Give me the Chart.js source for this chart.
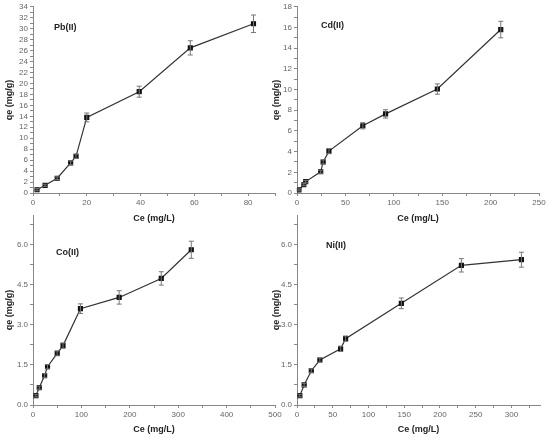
<!DOCTYPE html>
<html>
<head>
<meta charset="utf-8">
<script src="https://cdn.jsdelivr.net/npm/chart.js@4.4.0/dist/chart.umd.min.js"></script>
<style>
  html, body { margin: 0; padding: 0; background: #fff; }
  #wrap { position: relative; width: 550px; height: 439px; overflow: hidden; }
  .pane { position: absolute; }
  .tag { position: absolute; font: bold 9px "Liberation Sans", Arial, sans-serif; color: #222; }
</style>
</head>
<body>
<div id="wrap">
  <div class="pane" style="left:4px;top:0;width:281px;height:224px"><canvas id="c-pb"></canvas></div>
  <div class="pane" style="left:271px;top:0;width:279px;height:224px"><canvas id="c-cd"></canvas></div>
  <div class="pane" style="left:4px;top:208px;width:281px;height:231px"><canvas id="c-co"></canvas></div>
  <div class="pane" style="left:271px;top:208px;width:279px;height:231px"><canvas id="c-ni"></canvas></div>
  <div class="tag" style="left:54px;top:22px">Pb(II)</div>
  <div class="tag" style="left:321px;top:20px">Cd(II)</div>
  <div class="tag" style="left:56px;top:247px">Co(II)</div>
  <div class="tag" style="left:326px;top:240px">Ni(II)</div>
</div>
<script>
// Pb(II)
const pbCe = [1.5, 4.5, 9, 14, 16, 20, 39.5, 58.5, 82];
const pbQe = [0.6, 1.4, 2.7, 5.5, 6.7, 13.8, 18.5, 26.5, 30.9];
const pbErr = [0.2, 0.2, 0.25, 0.35, 0.4, 0.8, 1.0, 1.3, 1.6];
const pbXTicks = [0, 20, 40, 60, 80];
const pbYTicks = [0, 2, 4, 6, 8, 10, 12, 14, 16, 18, 20, 22, 24, 26, 28, 30, 32, 34];

// Cd(II)
const cdCe = [2, 7, 9, 24.5, 27, 33, 68, 91.5, 145, 210.5];
const cdQe = [0.3, 0.8, 1.1, 2.05, 3.0, 4.05, 6.5, 7.65, 10.05, 15.8];
const cdErr = [0.1, 0.1, 0.12, 0.15, 0.2, 0.25, 0.3, 0.4, 0.5, 0.8];
const cdXTicks = [0, 50, 100, 150, 200, 250];
const cdYTicks = [0, 2, 4, 6, 8, 10, 12, 14, 16, 18];

// Co(II)
const coCe = [6, 13, 24, 30, 50, 62, 98, 178, 265, 327];
const coQe = [0.35, 0.65, 1.1, 1.43, 1.93, 2.22, 3.6, 4.02, 4.73, 5.8];
const coErr = [0.05, 0.06, 0.07, 0.08, 0.09, 0.1, 0.18, 0.25, 0.25, 0.32];
const coXTicks = [0, 100, 200, 300, 400, 500];
const coYTicks = [0, 1.5, 3, 4.5, 6];

// Ni(II)
const niCe = [4, 10, 20, 32, 61, 68, 146, 230, 314];
const niQe = [0.35, 0.75, 1.28, 1.68, 2.1, 2.48, 3.8, 5.22, 5.43];
const niErr = [0.05, 0.06, 0.07, 0.08, 0.1, 0.1, 0.2, 0.25, 0.28];
const niXTicks = [0, 50, 100, 150, 200, 250, 300];
const niYTicks = [0, 1.5, 3, 4.5, 6];

const tickFont = { family: '"Liberation Sans", Arial, sans-serif', size: 8 };
const titleFont = { family: '"Liberation Sans", Arial, sans-serif', size: 9, weight: 'bold' };

// vertical error bars, drawn through the chart's own scales
const errorBars = {
  id: 'errorBars',
  afterDatasetsDraw(chart) {
    const errs = chart.options.plugins.errorBars.err;
    const ds = chart.data.datasets[0].data;
    const xs = chart.scales.x, ys = chart.scales.y;
    const ctx = chart.ctx;
    ctx.save();
    ctx.strokeStyle = '#777';
    ctx.lineWidth = 1;
    ds.forEach((p, i) => {
      const x = xs.getPixelForValue(p.x);
      const y1 = ys.getPixelForValue(p.y - errs[i]);
      const y2 = ys.getPixelForValue(p.y + errs[i]);
      ctx.beginPath();
      ctx.moveTo(x, y1); ctx.lineTo(x, y2);
      ctx.moveTo(x - 2.5, y1); ctx.lineTo(x + 2.5, y1);
      ctx.moveTo(x - 2.5, y2); ctx.lineTo(x + 2.5, y2);
      ctx.stroke();
    });
    ctx.restore();
  }
};

// majors with a minor tick halfway between each
function withMinor(majors, max) {
  const out = [];
  const step = majors[1] - majors[0];
  majors.forEach(v => { out.push(v); if (v + step / 2 <= max) out.push(v + step / 2); });
  return out;
}

function makeChart(id, ce, qe, err, xTicks, yTicks, xMax, yMax, opts) {
  const xAll = withMinor(xTicks, xMax);
  const yAll = withMinor(yTicks, yMax);
  const yDec = opts.yDec;
  return new Chart(document.getElementById(id), {
    type: 'line',
    data: {
      datasets: [{
        data: ce.map((c, i) => ({ x: c, y: qe[i] })),
        borderColor: '#333',
        borderWidth: 1.2,
        pointStyle: 'rect',
        pointRadius: 2.8,
        pointBackgroundColor: '#111',
        pointBorderColor: '#111',
        tension: 0
      }]
    },
    options: {
      responsive: true,
      maintainAspectRatio: false,
      animation: false,
      layout: { padding: opts.pad },
      plugins: { legend: { display: false }, tooltip: { enabled: false }, errorBars: { err } },
      scales: {
        x: {
          type: 'linear', min: 0, max: xMax,
          afterBuildTicks: s => { s.ticks = xAll.map(v => ({ value: v })); },
          afterFit: s => { s.height = opts.xh; },
          ticks: {
            autoSkip: false, maxRotation: 0, font: tickFont, color: '#666', padding: 2,
            callback: v => xTicks.includes(v) ? String(v) : ''
          },
          grid: { drawOnChartArea: false, tickLength: 3, color: '#888' },
          border: { color: '#888' },
          title: { display: true, text: 'Ce (mg/L)', font: titleFont, color: '#222', padding: { top: 6, bottom: opts.tb } }
        },
        y: {
          type: 'linear', min: 0, max: yMax,
          afterBuildTicks: s => { s.ticks = yAll.map(v => ({ value: v })); },
          afterFit: s => { s.width = opts.yw; },
          ticks: {
            autoSkip: false, font: tickFont, color: '#666', padding: 2,
            callback: v => yTicks.includes(v) ? v.toFixed(yDec) : ''
          },
          grid: { drawOnChartArea: false, tickLength: 3, color: '#888' },
          border: { color: '#888' },
          title: { display: true, text: 'qe (mg/g)', font: titleFont, color: '#222', padding: 0 }
        }
      }
    },
    plugins: [errorBars]
  });
}

makeChart('c-pb', pbCe, pbQe, pbErr, pbXTicks, pbYTicks, 90, 34,
  { yDec: 0, yw: 29, xh: 31, tb: 0, pad: { top: 6, right: 10, left: 0, bottom: 0 } });
makeChart('c-cd', cdCe, cdQe, cdErr, cdXTicks, cdYTicks, 250, 18,
  { yDec: 0, yw: 26, xh: 31, tb: 0, pad: { top: 6, right: 11, left: 0, bottom: 0 } });
makeChart('c-co', coCe, coQe, coErr, coXTicks, coYTicks, 500, 7.1,
  { yDec: 1, yw: 29, xh: 34, tb: 4, pad: { top: 7, right: 10, left: 0, bottom: 0 } });
makeChart('c-ni', niCe, niQe, niErr, niXTicks, niYTicks, 340, 7.1,
  { yDec: 1, yw: 26, xh: 34, tb: 4, pad: { top: 7, right: 10, left: 0, bottom: 0 } });
</script>
</body>
</html>
